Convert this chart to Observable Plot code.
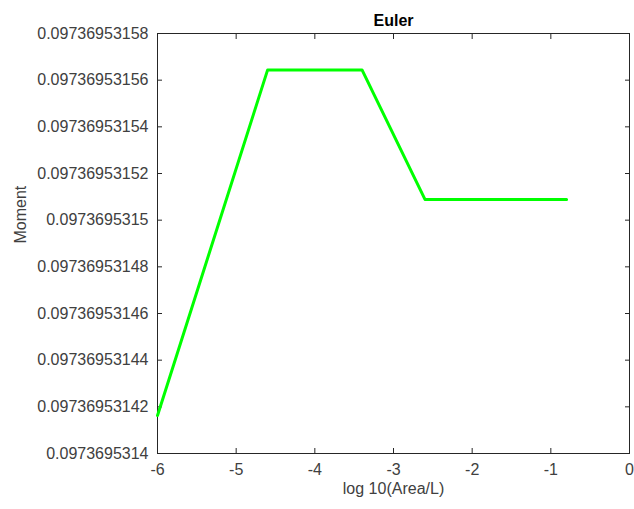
<!DOCTYPE html>
<html>
<head>
<meta charset="utf-8">
<script src="https://cdn.jsdelivr.net/npm/d3@7"></script>
<script src="https://cdn.jsdelivr.net/npm/@observablehq/plot@0.6"></script>
<style>
  body { margin: 0; background: #fff; }
  svg { display: block; }
</style>
</head>
<body>
<div id="chart"></div>
<script>
const title = "Euler";
const xLabel = "log 10(Area/L)";
const yLabel = "Moment";
const xValues = [-6, -4.6, -3.4, -2.6, -0.8];
const yValues = [0.0973695314163, 0.0973695315644, 0.0973695315644, 0.0973695315089, 0.0973695315089];
const xTicks = [-6, -5, -4, -3, -2, -1, 0];
const yTickLabels = ["0.0973695314", "0.09736953142", "0.09736953144", "0.09736953146", "0.09736953148",
  "0.0973695315", "0.09736953152", "0.09736953154", "0.09736953156", "0.09736953158"];
const yTicks = yTickLabels.map(Number);

const data = xValues.map((x, i) => ({x, y: yValues[i]}));
const font = "Liberation Sans, Arial, sans-serif";
const xDomain = [xTicks[0], xTicks[xTicks.length - 1]];
const yDomain = [yTicks[0], yTicks[yTicks.length - 1]];

const chart = Plot.plot({
  width: 634,
  height: 509,
  marginLeft: 157,
  marginRight: 5,
  marginTop: 33,
  marginBottom: 56,
  style: {fontFamily: font, fontSize: "16px", color: "#262626", background: "#fff"},
  x: {type: "linear", domain: xDomain},
  y: {type: "linear", domain: yDomain},
  marks: [
    Plot.frame(),
    Plot.axisX(xTicks, {anchor: "bottom", tickSize: -5, text: null, label: null}),
    Plot.axisX(xTicks, {anchor: "top", tickSize: -5, text: null, label: null}),
    Plot.axisX(xTicks, {anchor: "bottom", tickSize: 0, tickPadding: 10, tickFormat: d => String(d), fill: "#404040", label: null}),
    Plot.axisY(yTicks, {anchor: "left", tickSize: -5, text: null, label: null}),
    Plot.axisY(yTicks, {anchor: "right", tickSize: -5, text: null, label: null}),
    Plot.axisY(yTicks, {anchor: "left", tickSize: 0, tickPadding: 9, tickFormat: (d, i) => yTickLabels[i], fill: "#404040", label: null}),
    Plot.line(data, {x: "x", y: "y", stroke: "#00ff00", strokeWidth: 3}),
    Plot.text([title], {frameAnchor: "top", text: d => d, dy: -19, fontWeight: "bold", fontSize: 16, fill: "#000"}),
    Plot.text([xLabel], {frameAnchor: "bottom", text: d => d, dy: 40, fontSize: 16, fill: "#404040"}),
    Plot.text([yLabel], {frameAnchor: "left", text: d => d, dx: -137, rotate: -90, fontSize: 16, fill: "#404040"})
  ]
});
document.getElementById("chart").appendChild(chart);
</script>
</body>
</html>
